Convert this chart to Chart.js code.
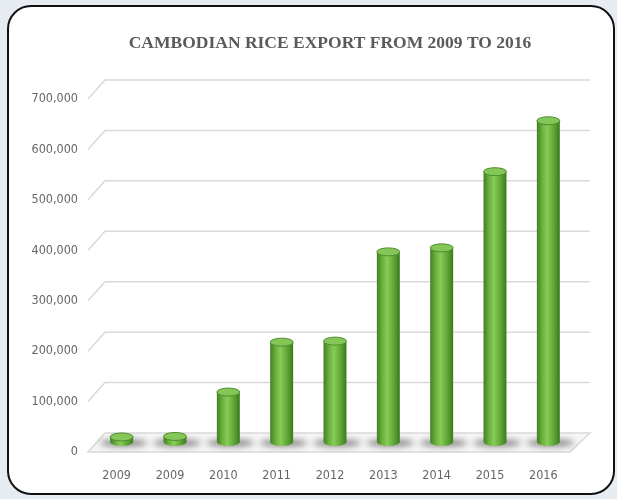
<!DOCTYPE html>
<html>
<head>
<meta charset="utf-8">
<script src="https://cdn.jsdelivr.net/npm/chart.js@4"></script>
<style>
  html, body { margin: 0; padding: 0; background: #e7ecf2; }
  #frame {
    position: absolute; left: 7px; top: 5px; width: 604px; height: 486px;
    border: 2.5px solid #111; border-radius: 24px; background: #fff;
  }
  #wrap { position: absolute; left: 0; top: 0; width: 617px; height: 499px; }
</style>
</head>
<body>
<div id="frame"></div>
<div id="wrap"><canvas id="riceChart"></canvas></div>
<script>
// data (tonnes)
var years = ['2009', '2009', '2010', '2011', '2012', '2013', '2014', '2015', '2016'];
var riceExport = [10000, 11000, 99000, 198000, 200000, 377000, 385000, 536000, 637000];
var yTicks = [0, 100000, 200000, 300000, 400000, 500000, 600000, 700000];

var depthX = 17, depthY = 19;   // back plane offset
var barShiftX = 5, barShiftY = 9; // bars sit half way into the floor
var barPct = 0.43;
var tickFont = "'DejaVu Sans Condensed', 'Liberation Sans Narrow', sans-serif";

function cylinderFill(c) {
  var xs = c.chart.scales.x;
  if (!xs || c.dataIndex === undefined) return '#6cb33f';
  var cx = xs.getPixelForValue(c.dataIndex);
  var w = xs.width / years.length * barPct;
  if (!isFinite(cx) || !isFinite(w) || w <= 0) return '#6cb33f';
  var g = c.chart.ctx.createLinearGradient(cx - w / 2, 0, cx + w / 2, 0);
  g.addColorStop(0, '#3f7f20');
  g.addColorStop(0.22, '#68ae3c');
  g.addColorStop(0.45, '#88cc58');
  g.addColorStop(0.75, '#5fa535');
  g.addColorStop(1, '#3a7a1b');
  return g;
}

// fake 3D: back grid, floor, shadows and cylinder caps
var pseudo3d = {
  id: 'pseudo3d',
  beforeDatasetsDraw: function(chart) {
    var ctx = chart.ctx, a = chart.chartArea, y = chart.scales.y;
    var left = a.left - 2, right = a.right + 20;
    ctx.save();
    var p0 = y.getPixelForValue(0);
    // floor
    ctx.fillStyle = '#f6f6f6';
    ctx.strokeStyle = '#d9d9d9';
    ctx.lineWidth = 1.5;
    ctx.beginPath();
    ctx.moveTo(left, p0 + depthY);
    ctx.lineTo(left + depthX, p0);
    ctx.lineTo(right, p0);
    ctx.lineTo(right - depthX - 3, p0 + depthY);
    ctx.closePath();
    ctx.fill();
    ctx.stroke();
    yTicks.forEach(function(v) {
      if (v === 0) return;
      var py = y.getPixelForValue(v);
      ctx.beginPath();
      ctx.moveTo(left, py + depthY);
      ctx.lineTo(left + depthX, py);
      ctx.lineTo(right, py);
      ctx.stroke();
    });
    // shadows on the floor
    var meta = chart.getDatasetMeta(0);
    ctx.filter = 'blur(3px)';
    meta.data.forEach(function(el) {
      ctx.fillStyle = 'rgba(40,40,40,0.55)';
      ctx.beginPath();
      ctx.ellipse(el.x + barShiftX + 2, el.base + barShiftY + 1, el.width * 1.05, 3.5, 0, 0, Math.PI * 2);
      ctx.fill();
    });
    ctx.filter = 'none';
    ctx.restore();
    ctx.save();
    ctx.translate(barShiftX, barShiftY);
  },
  afterDatasetsDraw: function(chart) {
    var ctx = chart.ctx;
    var meta = chart.getDatasetMeta(0);
    meta.data.forEach(function(el, i) {
      var rx = el.width / 2, ry = 4;
      // rounded bottom
      ctx.fillStyle = cylinderFill({ chart: chart, dataIndex: i });
      ctx.beginPath();
      ctx.ellipse(el.x, el.base, rx, ry, 0, 0, Math.PI);
      ctx.fill();
      // top cap
      ctx.fillStyle = '#84c657';
      ctx.strokeStyle = '#4f8d2e';
      ctx.lineWidth = 1;
      ctx.beginPath();
      ctx.ellipse(el.x, el.y, rx, ry, 0, 0, Math.PI * 2);
      ctx.fill();
      ctx.stroke();
    });
    ctx.restore();
  }
};

var ctx = document.getElementById('riceChart').getContext('2d');
var riceChart = new Chart(ctx, {
  type: 'bar',
  data: {
    labels: years,
    datasets: [{
      label: 'Rice export',
      data: riceExport,
      backgroundColor: cylinderFill,
      borderWidth: 0,
      barPercentage: barPct,
      categoryPercentage: 1
    }]
  },
  options: {
    responsive: true,
    maintainAspectRatio: false,
    animation: false,
    layout: { padding: { left: 0, right: 47, top: 0, bottom: 0 } },
    plugins: {
      legend: { display: false },
      tooltip: { enabled: false },
      title: {
        display: true,
        fullSize: false,
        text: 'CAMBODIAN RICE EXPORT FROM 2009 TO 2016',
        color: '#5a5a5a',
        font: { family: 'Liberation Serif', size: 17.5, weight: 'bold' },
        padding: { top: 33, bottom: 26 }
      }
    },
    scales: {
      x: {
        grid: { display: false },
        border: { display: false },
        ticks: {
          color: '#666666',
          padding: 27,
          font: { family: tickFont, size: 12.5 }
        },
        afterFit: function(s) { s.height = 66; }
      },
      y: {
        min: 0,
        max: 700000,
        grid: { display: false },
        border: { display: false },
        afterBuildTicks: function(s) { s.ticks = yTicks.map(function(v) { return { value: v }; }); },
        ticks: {
          color: '#666666',
          padding: 4,
          labelOffset: depthY,
          font: { family: tickFont, size: 12.5 },
          callback: function(v) { return v.toLocaleString('en-US'); }
        },
        afterFit: function(s) { s.width = 90; }
      }
    }
  },
  plugins: [pseudo3d]
});
// the gradient needs the laid-out x scale, so draw once more
riceChart.update();
</script>
</body>
</html>
